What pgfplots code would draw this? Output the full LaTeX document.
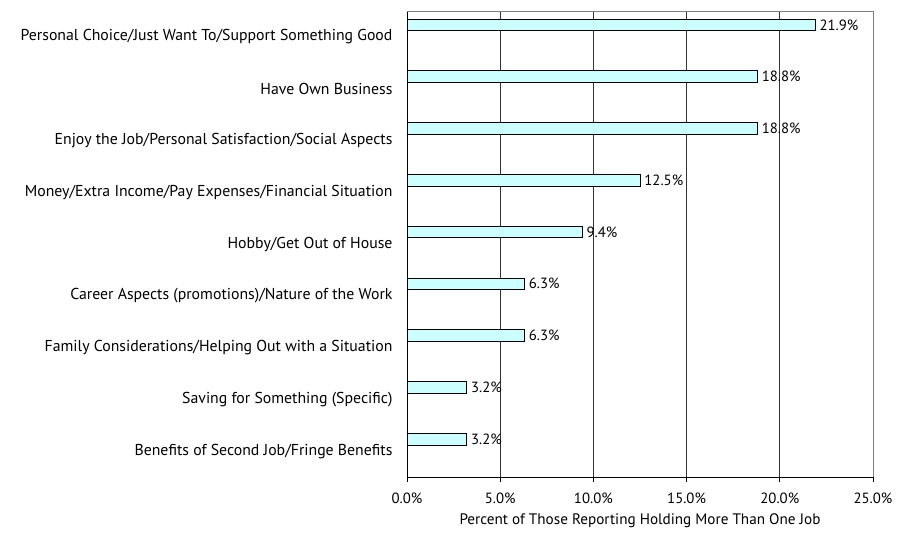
\documentclass[border=0pt]{standalone}
\usepackage{pgfplots}
\pgfplotsset{compat=1.18}
\usepackage{fontspec}
\setmainfont{PT Sans}
\definecolor{barfill}{HTML}{CCFFFF}
\begin{document}
\begin{tikzpicture}
\path[use as bounding box] (-407pt,-58pt) rectangle (504pt,477pt);
\begin{axis}[
  at={(0,0)}, anchor=south west,
  scale only axis, width=466pt, height=466pt,
  xbar, bar width=11.7pt, bar shift=12pt,
  xmin=0, xmax=25, ymin=-0.5, ymax=8.5,
  axis x line*=bottom, axis y line*=left,
  axis line style={black, line width=0.8pt, -},
  xtick={0,5,10,15,20,25},
  xticklabel={\pgfmathprintnumber[fixed,fixed zerofill,precision=1]{\tick}\%},
  /pgf/number format/assume math mode=true,
  xmajorgrids, grid style={black!80, line width=0.6pt},
  x tick style={black, line width=0.8pt},
  xtick align=outside, major tick length=5pt,
  ytick={0,...,8},
  yticklabels={Benefits of Second Job/Fringe Benefits, Saving for Something (Specific), Family Considerations/Helping Out with a Situation, Career Aspects (promotions)/Nature of the Work, Hobby/Get Out of House, Money/Extra Income/Pay Expenses/Financial Situation, Enjoy the Job/Personal Satisfaction/Social Aspects, Have Own Business, Personal Choice/Just Want To/Support Something Good},
  y tick style={draw=none},
  extra y ticks={-0.5,0.5,1.5,2.5,3.5,4.5,5.5,6.5,7.5,8.5},
  extra y tick labels={},
  extra y tick style={tick style={black, line width=0.8pt, draw=black}, ytick align=outside, major tick length=5pt, grid=none},
  yticklabel style={font=\fontsize{15.8}{17}\selectfont, xshift=-6pt},
  xticklabel style={font=\fontsize{14.8}{17}\selectfont, yshift=-7pt},
  xlabel={Percent of Those Reporting Holding More Than One Job},
  xlabel style={font=\fontsize{15.2}{17}\selectfont, yshift=-4pt},
  nodes near coords={\pgfmathprintnumber[fixed,fixed zerofill,precision=1]{\pgfplotspointmeta}\%},
  nodes near coords style={font=\fontsize{14.8}{17}\selectfont, anchor=west, inner sep=0pt, xshift=4pt},
  point meta=x,
  clip=false,
]
\addplot[fill=barfill, draw=black, line width=0.8pt] coordinates {
  (3.2,0) (3.2,1) (6.3,2) (6.3,3) (9.4,4) (12.5,5) (18.8,6) (18.8,7) (21.9,8)
};
\draw[gray, line width=0.8pt] (rel axis cs:0,1) -- (rel axis cs:1,1) -- (rel axis cs:1,0);
\end{axis}
\end{tikzpicture}
\end{document}
